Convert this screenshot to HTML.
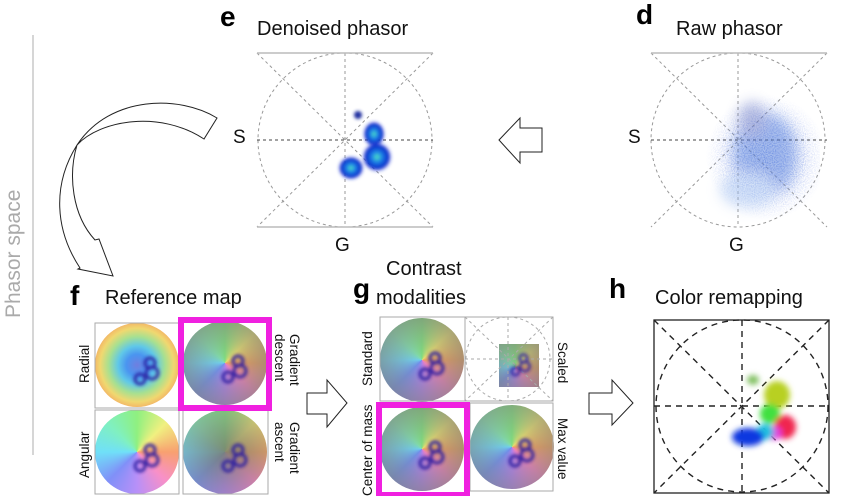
<!DOCTYPE html>
<html><head><meta charset="utf-8"><style>
body{margin:0;width:867px;height:496px;background:#fff;position:relative;overflow:hidden;font-family:"Liberation Sans",sans-serif}
.t{position:absolute;font-size:20px;color:#111;white-space:nowrap}
.b{position:absolute;font-size:28px;font-weight:bold;color:#000}
.c{position:absolute;border-radius:50%;width:84px;height:84px}
.r{position:absolute;font-size:13.5px;color:#111;white-space:nowrap;transform-origin:left top}
</style></head><body>
<div class="b" style="left:220px;top:1px">e</div>
<div class="t" style="left:257px;top:18px">Denoised phasor</div>
<div class="b" style="left:636px;top:-1px">d</div>
<div class="t" style="left:676px;top:18px">Raw phasor</div>
<div class="t" style="left:233px;top:127px;font-size:19px">S</div>
<div class="t" style="left:335px;top:235px;font-size:19px">G</div>
<div class="t" style="left:628px;top:127px;font-size:19px">S</div>
<div class="t" style="left:729px;top:235px;font-size:19px">G</div>
<div class="b" style="left:70px;top:280px">f</div>
<div class="t" style="left:105px;top:287px">Reference map</div>
<div class="b" style="left:353px;top:273px">g</div>
<div class="t" style="left:386px;top:258px;width:70px;text-align:center">Contrast</div>
<div class="t" style="left:376px;top:287px">modalities</div>
<div class="b" style="left:609px;top:273px">h</div>
<div class="t" style="left:655px;top:287px">Color remapping</div>
<div class="t" style="left:2px;top:318px;color:#aaa;font-size:21px;transform:rotate(-90deg);transform-origin:left top">Phasor space</div>

<div class="c" style="left:95px;top:323px;background:radial-gradient(circle,#6f7fe0 0%,#4a95f0 18%,#60c8e8 32%,#a8e090 48%,#f0d870 62%,#f5a060 78%,#f07870 100%)"></div>
<div class="c" style="left:183px;top:321px;background:radial-gradient(circle,rgba(128,128,120,0) 0%,rgba(128,128,120,.5) 60%,rgba(125,125,118,.8) 100%),conic-gradient(#7fe07f,#e8e070 45deg,#f0a060 90deg,#f080c0 135deg,#b080f0 180deg,#7090f0 225deg,#70d0f0 270deg,#80e0b0 315deg,#7fe07f)"></div>
<div class="c" style="left:95px;top:410px;background:conic-gradient(#8ff080,#f0f080 45deg,#f8a070 90deg,#f890c8 135deg,#b890f8 180deg,#8090f8 225deg,#70e0f8 270deg,#80f0c0 315deg,#8ff080)"></div>
<div class="c" style="left:183px;top:410px;background:radial-gradient(circle,rgba(120,125,110,.85) 0%,rgba(128,128,120,.45) 55%,rgba(128,128,120,.1) 100%),conic-gradient(#7fe07f,#e8e070 45deg,#f0a060 90deg,#f080c0 135deg,#b080f0 180deg,#7090f0 225deg,#70d0f0 270deg,#80e0b0 315deg,#7fe07f)"></div>
<div class="c" style="left:380px;top:318px;background:radial-gradient(circle,rgba(128,128,120,0) 0%,rgba(128,128,120,.5) 60%,rgba(125,125,118,.8) 100%),conic-gradient(#7fe07f,#e8e070 45deg,#f0a060 90deg,#f080c0 135deg,#b080f0 180deg,#7090f0 225deg,#70d0f0 270deg,#80e0b0 315deg,#7fe07f)"></div>
<div class="c" style="left:380px;top:407px;background:radial-gradient(circle,rgba(128,128,120,0) 0%,rgba(128,128,120,.5) 60%,rgba(125,125,118,.8) 100%),conic-gradient(#7fe07f,#e8e070 45deg,#f0a060 90deg,#f080c0 135deg,#b080f0 180deg,#7090f0 225deg,#70d0f0 270deg,#80e0b0 315deg,#7fe07f)"></div>
<div class="c" style="left:470px;top:405px;background:radial-gradient(circle,rgba(128,128,120,0) 0%,rgba(128,128,120,.4) 55%,rgba(125,125,118,.7) 100%),conic-gradient(#7fe07f,#e8e070 45deg,#f0a060 90deg,#f080c0 135deg,#b080f0 180deg,#7090f0 225deg,#70d0f0 270deg,#80e0b0 315deg,#7fe07f)"></div>
<div style="position:absolute;left:499px;top:344px;width:40px;height:43px;background:radial-gradient(circle at 40% 50%,rgba(128,128,120,.2),rgba(128,128,120,.75)),conic-gradient(from 0deg at 40% 55%,#7fe07f,#e8e070 45deg,#f0a060 90deg,#f080c0 135deg,#b080f0 180deg,#7090f0 225deg,#70d0f0 270deg,#80e0b0 315deg,#7fe07f)"></div>

<div class="r" style="left:77px;top:383px;transform:rotate(-90deg)">Radial</div>
<div class="r" style="left:77px;top:478px;transform:rotate(-90deg)">Angular</div>
<div class="r" style="left:302px;top:334px;transform:rotate(90deg)">Gradient<br>descent</div>
<div class="r" style="left:302px;top:422px;transform:rotate(90deg)">Gradient<br>ascent</div>
<div class="r" style="left:360px;top:386px;transform:rotate(-90deg)">Standard</div>
<div class="r" style="left:360px;top:496px;transform:rotate(-90deg)">Center of mass</div>
<div class="r" style="left:570px;top:342px;transform:rotate(90deg)">Scaled</div>
<div class="r" style="left:570px;top:418px;transform:rotate(90deg)">Max value</div>

<svg width="867" height="496" style="position:absolute;left:0;top:0">
<defs>
<filter id="bl" x="-50%" y="-50%" width="200%" height="200%"><feGaussianBlur stdDeviation="1.5"/></filter>
<filter id="bl4" x="-50%" y="-50%" width="200%" height="200%"><feGaussianBlur stdDeviation="3"/></filter>
<filter id="bl8" x="-50%" y="-50%" width="200%" height="200%"><feGaussianBlur stdDeviation="7"/></filter>
<filter id="speck" x="0" y="0" width="100%" height="100%"><feTurbulence type="fractalNoise" baseFrequency="0.9" numOctaves="1" seed="3"/><feColorMatrix values="0 0 0 0 0.2  0 0 0 0 0.3  0 0 0 0 0.8  0 0 0 -2.2 1.4"/><feComposite in2="SourceGraphic" operator="in"/></filter>
<radialGradient id="blob"><stop offset="0" stop-color="#50e8c0"/><stop offset=".35" stop-color="#1c80e8"/><stop offset=".75" stop-color="#0a28c8"/><stop offset="1" stop-color="#3040e0" stop-opacity="0"/></radialGradient>
<radialGradient id="cloud" cx="55%" cy="50%"><stop offset="0" stop-color="#3060d0" stop-opacity=".9"/><stop offset=".6" stop-color="#5080e0" stop-opacity=".55"/><stop offset="1" stop-color="#90b0f0" stop-opacity="0"/></radialGradient>
</defs>
<line x1="33" y1="35" x2="33" y2="455" stroke="#bbb" stroke-width="1.2"/>
<g stroke="#999" fill="none" stroke-width="1" stroke-dasharray="3,3">
<circle cx="345" cy="140" r="87"/><line x1="257" y1="140" x2="433" y2="140" stroke="#444"/><line x1="345" y1="53" x2="345" y2="227"/>
<line x1="257" y1="53" x2="433" y2="227"/><line x1="433" y1="53" x2="257" y2="227"/>
<circle cx="738" cy="140" r="87"/><line x1="651" y1="140" x2="827" y2="140" stroke="#444"/><line x1="738" y1="53" x2="738" y2="227"/>
<line x1="651" y1="53" x2="827" y2="227"/><line x1="827" y1="53" x2="651" y2="227"/>
</g>
<g stroke="#bbb" stroke-width="1.5"><line x1="257" y1="53" x2="433" y2="53"/><line x1="257" y1="227" x2="433" y2="227"/><line x1="651" y1="53" x2="827" y2="53"/></g>
<g filter="url(#bl)">
<circle cx="358" cy="115" r="4" fill="#2030a0"/>
<ellipse cx="374" cy="134" rx="11" ry="13" fill="url(#blob)"/>
<ellipse cx="377" cy="157" rx="15" ry="15" fill="url(#blob)"/>
<ellipse cx="351" cy="168" rx="13" ry="12" fill="url(#blob)"/>
</g>
<g>
<rect x="700" y="95" width="120" height="125" fill="url(#cloud)" filter="url(#speck)"/>
<g filter="url(#bl8)" opacity=".45">
<ellipse cx="765" cy="155" rx="32" ry="42" fill="#4070d8"/>
<ellipse cx="752" cy="120" rx="14" ry="18" fill="#6070c0"/>
<ellipse cx="748" cy="190" rx="28" ry="18" fill="#a0c0f0"/>
</g>
</g>
<path d="M499,140 L520,118 L520,128 L542,128 L542,152 L520,152 L520,163 Z" fill="#fff" stroke="#222" stroke-width="1"/>
<path d="M217,118 C180,95 110,95 77,145 C52,185 55,230 80,268 L78,269 L113,276 L99,239 L95,240 C72,215 68,175 77,145 C100,120 160,110 204,139 Z" fill="#fff" stroke="#222" stroke-width="1"/>
<g stroke="#aaa" stroke-width="1" fill="none">
<rect x="95" y="323" width="84" height="85"/><rect x="95" y="410" width="84" height="84"/><rect x="183" y="410" width="85" height="84"/>
<rect x="380" y="317" width="85" height="84"/><rect x="465" y="317" width="88" height="84"/><rect x="470" y="403" width="83" height="88"/>
<g stroke-dasharray="3,3"><circle cx="508" cy="359" r="42"/><line x1="465" y1="359" x2="553" y2="359"/><line x1="508" y1="317" x2="508" y2="401"/><line x1="465" y1="317" x2="553" y2="401"/><line x1="553" y1="317" x2="465" y2="401"/></g>
</g>
<g fill="none" stroke="#2a1aa0" stroke-width="3" filter="url(#bl)" opacity=".9">
<g transform="translate(137,365)"><circle cx="13" cy="-2" r="5"/><circle cx="15" cy="8" r="6"/><circle cx="3" cy="14" r="5"/></g>
<g transform="translate(225,363)"><circle cx="13" cy="-2" r="5"/><circle cx="15" cy="8" r="6"/><circle cx="3" cy="14" r="5"/></g>
<g transform="translate(137,452)"><circle cx="13" cy="-2" r="5"/><circle cx="15" cy="8" r="6"/><circle cx="3" cy="14" r="5"/></g>
<g transform="translate(225,452)"><circle cx="13" cy="-2" r="5"/><circle cx="15" cy="8" r="6"/><circle cx="3" cy="14" r="5"/></g>
<g transform="translate(422,360)"><circle cx="13" cy="-2" r="5"/><circle cx="15" cy="8" r="6"/><circle cx="3" cy="14" r="5"/></g>
<g transform="translate(422,449)"><circle cx="13" cy="-2" r="5"/><circle cx="15" cy="8" r="6"/><circle cx="3" cy="14" r="5"/></g>
<g transform="translate(512,447)"><circle cx="13" cy="-2" r="5"/><circle cx="15" cy="8" r="6"/><circle cx="3" cy="14" r="5"/></g>
<g transform="translate(513,360) scale(.8)"><circle cx="13" cy="-2" r="5"/><circle cx="15" cy="8" r="6"/><circle cx="3" cy="14" r="5"/></g>
</g>
<rect x="181" y="320" width="88" height="88" fill="none" stroke="#f020e0" stroke-width="6"/>
<rect x="379" y="405" width="88" height="90" fill="none" stroke="#f020e0" stroke-width="6"/>
<path d="M307,393 L327,393 L327,380 L347,403 L327,427 L327,414 L307,414 Z" fill="#fff" stroke="#222" stroke-width="1"/>
<path d="M589,393 L612,393 L612,380 L633,403 L612,425 L612,414 L589,414 Z" fill="#fff" stroke="#222" stroke-width="1"/>
<rect x="654" y="320" width="175" height="173" fill="none" stroke="#222" stroke-width="1.3"/>
<g stroke="#222" stroke-width="1.4" fill="none" stroke-dasharray="6,5">
<circle cx="742" cy="406" r="86"/><line x1="654" y1="406" x2="829" y2="406"/><line x1="742" y1="320" x2="742" y2="493"/>
<line x1="654" y1="320" x2="829" y2="493"/><line x1="829" y1="320" x2="654" y2="493"/>
</g>
<g filter="url(#bl4)">
<ellipse cx="753" cy="380" rx="6" ry="5" fill="#80c060"/>
<ellipse cx="777" cy="395" rx="13" ry="14" fill="#b8d020"/>
<ellipse cx="770" cy="414" rx="10" ry="10" fill="#40e040"/>
<ellipse cx="785" cy="427" rx="11" ry="12" fill="#f02850"/>
<ellipse cx="774" cy="433" rx="8" ry="7" fill="#e040e0"/>
<ellipse cx="765" cy="432" rx="9" ry="8" fill="#20c0e0"/>
<ellipse cx="748" cy="437" rx="16" ry="9" fill="#1038e0"/>
</g>
</svg>
</body></html>
